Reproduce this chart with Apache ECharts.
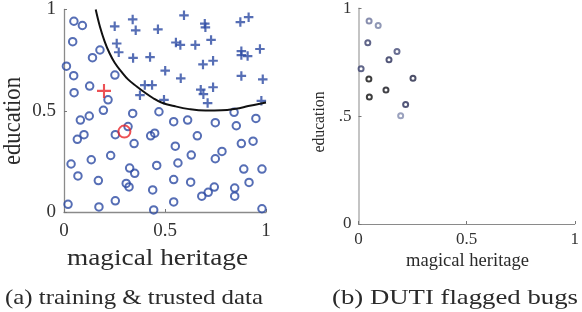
<!DOCTYPE html>
<html><head><meta charset="utf-8">
<script src="https://cdn.jsdelivr.net/npm/echarts@6/dist/echarts.min.js"></script>
<style>html,body{margin:0;padding:0;background:#fff}#c{width:582px;height:312px}</style>
</head><body><div id="c"></div>
<script>
// ---- data ----
// flagged training bugs: class "o" points lying in the "+" region (shown in both panels)
const flaggedBugs = [[0.049,0.942],[0.091,0.921],[0.043,0.841],[0.178,0.800],[0.141,0.762],[0.012,0.720],[0.048,0.673],[0.252,0.676],[0.127,0.622],[0.050,0.589],[0.218,0.554],[0.195,0.502]];
// darkness of each flagged bug in panel (b), 0 = light, 1 = black
const flaggedShade = [0.2,0.15,0.5,0.4,0.65,0.5,1.0,0.75,0.95,1.0,0.65,0.1];
// remaining class "o" training points
const circlePoints = [[0.340,0.487],[0.470,0.495],[0.125,0.474],[0.081,0.454],[0.317,0.422],[0.254,0.382],[0.099,0.382],[0.066,0.359],[0.429,0.376],[0.449,0.389],[0.347,0.338],[0.231,0.279],[0.135,0.258],[0.035,0.237],[0.325,0.217],[0.350,0.191],[0.459,0.230],[0.069,0.178],[0.170,0.155],[0.308,0.141],[0.322,0.124],[0.439,0.109],[0.254,0.055],[0.020,0.038],[0.173,0.025],[0.444,0.010],
 [0.842,0.492],[0.543,0.446],[0.612,0.454],[0.749,0.441],[0.853,0.426],[0.950,0.462],[0.660,0.376],[0.551,0.325],[0.630,0.281],[0.749,0.263],[0.782,0.299],[0.878,0.338],[0.936,0.350],[0.564,0.242],[0.890,0.212],[0.980,0.212],[0.543,0.160],[0.627,0.147],[0.744,0.123],[0.714,0.097],[0.682,0.078],[0.845,0.118],[0.845,0.078],[0.916,0.146],[0.543,0.050],[0.980,0.016]];
// class "+" training points
const plusPoints = [[0.340,0.951],[0.251,0.917],[0.355,0.897],[0.465,0.902],[0.261,0.832],[0.271,0.789],[0.342,0.761],[0.426,0.765],[0.400,0.627],[0.436,0.627],[0.376,0.577],[0.495,0.554],[0.501,0.698],[0.594,0.971],[0.697,0.930],[0.700,0.912],[0.873,0.938],[0.914,0.962],[0.554,0.837],[0.576,0.825],[0.650,0.825],[0.728,0.850],[0.878,0.794],[0.878,0.775],[0.909,0.770],[0.970,0.805],[0.688,0.729],[0.738,0.747],[0.578,0.660],[0.878,0.672],[0.984,0.655],[0.677,0.604],[0.690,0.582],[0.738,0.616],[0.711,0.538],[0.977,0.549]];
// trusted items
const trustedPlus = [[0.198,0.598]];
const trustedCircle = [[0.299,0.397]];
// learned decision boundary
const boundary = [[0.157,1.0],[0.178,0.915],[0.201,0.843],[0.225,0.785],[0.251,0.737],[0.285,0.692],[0.317,0.655],[0.360,0.620],[0.400,0.590],[0.440,0.563],[0.482,0.541],[0.550,0.522],[0.620,0.508],[0.700,0.501],[0.780,0.502],[0.850,0.510],[0.912,0.523],[1.0,0.541]];
// axes
const axisTicks = [0, 0.5, 1];
const leftTickLabels = ['0', '0.5', '1'];
const rightXTickLabels = ['0', '0.5', '1'];
const rightYTickLabels = ['0', '.5', '1'];

// ---- chart ----
const FONT = 'Liberation Serif';
const ctx = document.createElement('canvas').getContext('2d');
function fitScale(text, size, target) {
  ctx.font = size + 'px "' + FONT + '"';
  return target / ctx.measureText(text).width;
}
function label(text, x, y, size, target, rot, cross) {
  const s = fitScale(text, size, target);
  return {type: 'text', x: x, y: y, rotation: rot || 0, scaleX: s, scaleY: cross || 1, z: 10,
    style: {text: text, font: size + 'px "' + FONT + '"', fill: '#2a2a2a', align: 'center', verticalAlign: 'middle'}};
}
function fmt(labels) { return v => labels[axisTicks.indexOf(Math.round(v * 2) / 2)]; }

const BLUE = '#2c4aa2';
const RED = '#e8262a';
const plusPath = 'path://M3.85,0H6.15V3.85H10V6.15H6.15V10H3.85V6.15H0V3.85H3.85Z';
const plusRed = 'path://M4.25,0H5.75V4.25H10V5.75H5.75V10H4.25V5.75H0V4.25H4.25Z';

function axisBase(gi, fontSize, margin, labels, lineColor, lineWidth) {
  return {
    type: 'value', gridIndex: gi, min: 0, max: 1, interval: 0.5,
    axisLine: {show: true, lineStyle: {color: lineColor, width: lineWidth}},
    axisTick: {show: true, inside: true, length: 3, lineStyle: {color: '#777', width: 1}},
    splitLine: {show: false},
    axisLabel: {fontFamily: FONT, fontSize: fontSize, color: '#333', margin: margin, formatter: fmt(labels)}
  };
}

const chart = echarts.init(document.getElementById('c'), null, {renderer: 'canvas'});
chart.setOption({
  animation: false,
  backgroundColor: '#fff',
  grid: [
    {left: 64, top: 8, width: 202, height: 204},
    {left: 358.5, top: 5, width: 219, height: 219}
  ],
  xAxis: [
    axisBase(0, 19, 10, leftTickLabels, '#8a8a8a', 1.3),
    axisBase(1, 17, 7, rightXTickLabels, '#8a8a8a', 1)
  ],
  yAxis: [
    axisBase(0, 19, 8, leftTickLabels, '#8a8a8a', 1.3),
    axisBase(1, 17, 7, rightYTickLabels, '#c4c4c4', 2)
  ],
  visualMap: [{
    type: 'continuous', show: false, seriesIndex: 5, dimension: 2, min: 0, max: 1,
    inRange: {color: ['#9aa3c2', '#4a527f', '#262b56', '#0e0e0e']}
  }],
  series: [
    {type: 'scatter', xAxisIndex: 0, yAxisIndex: 0, symbol: 'circle', symbolSize: 7.5,
     itemStyle: {color: 'rgba(255,255,255,0)', borderColor: BLUE, borderWidth: 2},
     data: circlePoints.concat(flaggedBugs)},
    {type: 'scatter', xAxisIndex: 0, yAxisIndex: 0, symbol: plusPath, symbolSize: 9.5,
     itemStyle: {color: BLUE}, data: plusPoints},
    {type: 'line', xAxisIndex: 0, yAxisIndex: 0, showSymbol: false, smooth: 0.4, clip: true,
     lineStyle: {color: '#111', width: 2}, data: boundary, z: 3},
    {type: 'scatter', xAxisIndex: 0, yAxisIndex: 0, symbol: 'circle', symbolSize: 12,
     itemStyle: {color: 'rgba(255,255,255,0)', borderColor: RED, borderWidth: 2}, data: trustedCircle, z: 4},
    {type: 'scatter', xAxisIndex: 0, yAxisIndex: 0, symbol: plusRed, symbolSize: 14,
     itemStyle: {color: RED}, data: trustedPlus, z: 4},
    {type: 'scatter', xAxisIndex: 1, yAxisIndex: 1, symbol: 'emptyCircle', symbolSize: 5,
     itemStyle: {borderWidth: 2.2},
     data: flaggedBugs.map((p, i) => [p[0], p[1], flaggedShade[i]])}
  ],
  graphic: [
    label('education', 13, 121, 22, 88, Math.PI / 2, 1.15),
    label('magical heritage', 157.5, 259, 23, 181),
    label('education', 319, 122, 16, 61, Math.PI / 2, 1.1),
    label('magical heritage', 467.5, 261, 18, 123),
    label('(a) training & trusted data', 134, 298, 22, 258),
    label('(b) DUTI flagged bugs', 455, 298, 22, 246)
  ]
});
</script></body></html>
